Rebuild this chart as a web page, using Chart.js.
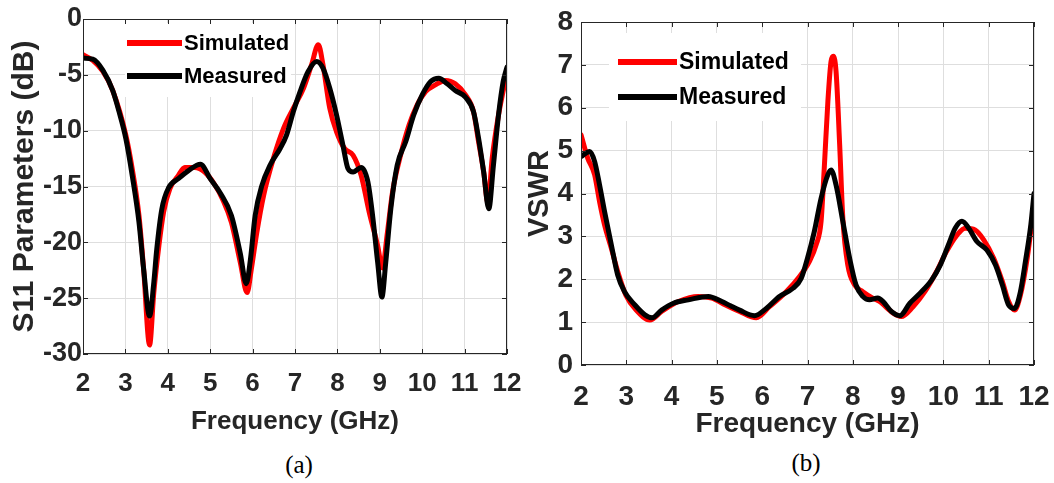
<!DOCTYPE html>
<html>
<head>
<meta charset="utf-8">
<script src="https://cdn.jsdelivr.net/npm/chart.js@4.4.0/dist/chart.umd.min.js"></script>
<style>
  body { margin: 0; background: #fff; width: 1054px; height: 483px; position: relative; overflow: hidden; }
  canvas { position: absolute; top: 0; }
  #s11 { left: 0; }
  #vswr { left: 527px; }
  .cap { position: absolute; font: 25px "Liberation Serif", "Times New Roman", serif; color: #000; transform: translateX(-50%); }
</style>
</head>
<body>
<canvas id="s11" width="527" height="445"></canvas>
<canvas id="vswr" width="527" height="445"></canvas>
<div class="cap" style="left:299px; top:451px;">(a)</div>
<div class="cap" style="left:806px; top:449px;">(b)</div>
<script>
// valores (GHz / dB / VSWR)
const xTicks = [2, 3, 4, 5, 6, 7, 8, 9, 10, 11, 12];
const s11Ticks = [0, -5, -10, -15, -20, -25, -30];
const vswrTicks = [0, 1, 2, 3, 4, 5, 6, 7, 8];

const s11SimFreq = [2.0, 2.23, 2.47, 2.7, 3.01, 3.16, 3.32, 3.43, 3.57, 3.67, 3.79, 3.9, 4.05, 4.25, 4.4, 4.63, 4.87, 5.1, 5.3, 5.5, 5.71, 5.87, 5.97, 6.1, 6.26, 6.49, 6.73, 6.96, 7.2, 7.39, 7.55, 7.66, 7.82, 7.98, 8.17, 8.37, 8.56, 8.75, 8.95, 9.06, 9.18, 9.3, 9.49, 9.69, 9.88, 10.08, 10.31, 10.55, 10.78, 11.02, 11.21, 11.33, 11.45, 11.55, 11.65, 11.8, 12.0];
const s11Sim = [-3.2, -3.7, -4.7, -6.4, -10.4, -13.4, -17.6, -22.4, -29.2, -24.5, -20.3, -17.3, -15.2, -14.0, -13.3, -13.3, -13.7, -14.8, -16.2, -18.2, -21.8, -24.5, -22.4, -19.1, -15.8, -12.5, -9.8, -8.0, -6.2, -4.1, -2.3, -4.1, -8.0, -10.1, -11.6, -12.2, -14.0, -17.3, -20.3, -22.3, -19.1, -15.5, -12.2, -9.5, -7.7, -6.5, -5.9, -5.5, -5.8, -6.8, -8.3, -11.0, -13.7, -16.5, -12.5, -8.6, -4.8];

const s11MeasFreq = [2.0, 2.23, 2.47, 2.7, 2.85, 3.01, 3.16, 3.32, 3.43, 3.57, 3.67, 3.74, 3.86, 4.02, 4.25, 4.48, 4.77, 5.0, 5.24, 5.5, 5.71, 5.85, 5.95, 6.06, 6.22, 6.41, 6.65, 6.8, 6.96, 7.12, 7.31, 7.51, 7.66, 7.82, 7.98, 8.13, 8.25, 8.37, 8.56, 8.72, 8.83, 8.95, 9.05, 9.14, 9.26, 9.41, 9.61, 9.8, 10.0, 10.2, 10.39, 10.59, 10.78, 11.02, 11.21, 11.33, 11.45, 11.57, 11.68, 11.8, 11.91, 12.0];
const s11Meas = [-3.5, -3.6, -4.6, -6.4, -8.3, -10.7, -14.0, -18.2, -22.4, -26.6, -23.6, -20.6, -17.0, -15.1, -14.3, -13.6, -13.0, -14.3, -15.6, -17.6, -21.0, -23.7, -21.5, -17.6, -14.9, -13.1, -11.6, -10.4, -8.3, -6.5, -4.7, -3.8, -4.4, -6.2, -8.6, -11.3, -13.4, -13.7, -13.3, -14.6, -17.6, -21.8, -24.9, -21.8, -17.0, -13.1, -11.0, -8.6, -6.8, -5.6, -5.3, -5.8, -6.4, -7.0, -8.3, -10.7, -13.7, -17.0, -13.1, -8.6, -5.6, -4.3];

const vswrSimFreq = [2.0, 2.15, 2.3, 2.41, 2.52, 2.67, 2.81, 2.99, 3.22, 3.52, 3.78, 4.15, 4.59, 4.89, 5.19, 5.5, 5.87, 6.16, 6.53, 6.82, 7.04, 7.19, 7.3, 7.37, 7.45, 7.52, 7.57, 7.63, 7.71, 7.78, 7.89, 8.04, 8.22, 8.44, 8.59, 8.89, 9.07, 9.33, 9.59, 9.85, 10.07, 10.3, 10.48, 10.7, 10.89, 11.11, 11.3, 11.44, 11.57, 11.7, 11.85, 12.0];
const vswrSim = [5.37, 4.82, 4.44, 3.81, 3.27, 2.72, 2.18, 1.63, 1.28, 1.05, 1.25, 1.48, 1.6, 1.56, 1.4, 1.25, 1.1, 1.36, 1.71, 2.06, 2.41, 2.8, 3.35, 4.59, 6.15, 7.08, 7.2, 6.85, 5.14, 3.42, 2.33, 1.87, 1.71, 1.56, 1.48, 1.21, 1.13, 1.36, 1.71, 2.18, 2.65, 3.03, 3.19, 3.15, 2.92, 2.49, 1.95, 1.48, 1.28, 1.63, 2.49, 3.74];

const vswrMeasFreq = [2.0, 2.19, 2.3, 2.41, 2.52, 2.67, 2.81, 2.96, 3.19, 3.41, 3.57, 3.78, 4.04, 4.37, 4.81, 5.11, 5.3, 5.5, 5.83, 6.09, 6.38, 6.68, 6.86, 7.0, 7.15, 7.3, 7.45, 7.52, 7.63, 7.78, 7.93, 8.07, 8.22, 8.37, 8.55, 8.67, 8.85, 9.04, 9.26, 9.48, 9.74, 9.93, 10.11, 10.26, 10.41, 10.56, 10.74, 10.96, 11.15, 11.3, 11.44, 11.57, 11.7, 11.81, 11.93, 12.0];
const vswrMeas = [4.86, 4.98, 4.75, 4.2, 3.58, 2.8, 2.1, 1.71, 1.4, 1.17, 1.1, 1.28, 1.44, 1.52, 1.6, 1.48, 1.38, 1.28, 1.15, 1.32, 1.6, 1.79, 2.02, 2.49, 3.11, 3.89, 4.44, 4.55, 4.2, 3.35, 2.49, 1.87, 1.6, 1.52, 1.56, 1.48, 1.25, 1.15, 1.44, 1.67, 1.98, 2.33, 2.8, 3.19, 3.35, 3.19, 2.88, 2.68, 2.33, 1.87, 1.4, 1.32, 1.71, 2.41, 3.27, 4.0];

const TXT = '#262626';
const FAMILY = '"Liberation Sans", Arial, sans-serif';

function pontos(xs, ys) {
    return xs.map((x, i) => ({ x: x, y: ys[i] }));
}

// moldura da área do gráfico com marcas para dentro + legenda interna
const molduraPlugin = {
    id: 'moldura',
    afterDraw(chart) {
        const { ctx, chartArea: a, scales } = chart;
        const lg = chart.options.plugins.moldura;
        ctx.save();

        // legenda
        ctx.fillStyle = '#fff';
        ctx.fillRect(lg.box[0], lg.box[1], lg.box[2], lg.box[3]);
        chart.data.datasets.forEach((ds, i) => {
            const y = lg.rowY + i * lg.rowGap;
            ctx.strokeStyle = ds.borderColor;
            ctx.lineWidth = 6;
            ctx.beginPath();
            ctx.moveTo(lg.lineX[0], y);
            ctx.lineTo(lg.lineX[1], y);
            ctx.stroke();
            ctx.fillStyle = '#000';
            ctx.font = 'bold ' + lg.fontSize + 'px ' + FAMILY;
            ctx.textBaseline = 'middle';
            ctx.textAlign = 'left';
            ctx.fillText(ds.label, lg.lineX[1] + 2, y + 1);
        });

        // caixa e ticks
        ctx.strokeStyle = TXT;
        ctx.lineWidth = 1;
        ctx.strokeRect(a.left + 0.5, a.top + 0.5, a.width - 1, a.height - 1);
        const len = 5;
        ctx.beginPath();
        scales.x.ticks.forEach(t => {
            const x = Math.round(scales.x.getPixelForValue(t.value)) + 0.5;
            ctx.moveTo(x, a.bottom); ctx.lineTo(x, a.bottom - len);
            ctx.moveTo(x, a.top); ctx.lineTo(x, a.top + len);
        });
        scales.y.ticks.forEach(t => {
            const y = Math.round(scales.y.getPixelForValue(t.value)) + 0.5;
            ctx.moveTo(a.left, y); ctx.lineTo(a.left + len, y);
            ctx.moveTo(a.right, y); ctx.lineTo(a.right - len, y);
        });
        ctx.stroke();
        ctx.restore();
    }
};

function criarGrafico(id, cfg) {
    const ctx = document.getElementById(id).getContext('2d');
    return new Chart(ctx, {
        type: 'line',
        data: {
            datasets: [{
                label: 'Simulated',
                data: pontos(cfg.simX, cfg.simY),
                borderColor: '#ff0000',
                borderWidth: 5,
                order: 1
            }, {
                label: 'Measured',
                data: pontos(cfg.measX, cfg.measY),
                borderColor: '#000000',
                borderWidth: 5,
                order: 0
            }]
        },
        options: {
            responsive: false,
            animation: false,
            parsing: false,
            elements: {
                point: { radius: 0 },
                line: { tension: 0.4, cubicInterpolationMode: 'monotone', borderCapStyle: 'round', borderJoinStyle: 'round' }
            },
            layout: { padding: { left: 0, right: 20, top: cfg.top, bottom: 0 } },
            plugins: {
                legend: { display: false },
                tooltip: { enabled: false },
                moldura: cfg.legend
            },
            scales: {
                x: {
                    type: 'linear',
                    min: 2,
                    max: 12,
                    afterBuildTicks: s => { s.ticks = xTicks.map(v => ({ value: v })); },
                    afterFit: s => { s.height = cfg.xHeight; s.paddingLeft = 0; s.paddingRight = 0; },
                    grid: { color: '#dedede', drawTicks: false },
                    border: { display: false },
                    ticks: {
                        autoSkip: false, maxRotation: 0,
                        padding: cfg.xTickPad,
                        color: TXT,
                        font: { family: FAMILY, size: cfg.xTickSize, weight: 'bold' },
                        callback: v => String(v)
                    },
                    title: {
                        display: true,
                        text: 'Frequency (GHz)',
                        color: TXT,
                        font: { family: FAMILY, size: cfg.xTitleSize, weight: 'bold', lineHeight: 1.2 },
                        padding: { top: 0, bottom: cfg.xTitlePad }
                    }
                },
                y: {
                    type: 'linear',
                    min: cfg.yMin,
                    max: cfg.yMax,
                    afterBuildTicks: s => { s.ticks = cfg.yTicks.map(v => ({ value: v })); },
                    afterFit: s => { s.width = cfg.yWidth; s.paddingTop = 0; s.paddingBottom = 0; },
                    grid: { color: '#dedede', drawTicks: false },
                    border: { display: false },
                    ticks: {
                        autoSkip: false,
                        padding: cfg.yTickPad,
                        color: TXT,
                        font: { family: FAMILY, size: cfg.yTickSize, weight: 'bold' },
                        callback: v => String(v)
                    },
                    title: {
                        display: true,
                        text: cfg.yTitle,
                        color: TXT,
                        font: { family: FAMILY, size: cfg.yTitleSize, weight: 'bold', lineHeight: cfg.yTitleLH },
                        padding: { top: cfg.yTitlePad, bottom: 0 }
                    }
                }
            }
        },
        plugins: [molduraPlugin]
    });
}

criarGrafico('s11', {
    simX: s11SimFreq, simY: s11Sim, measX: s11MeasFreq, measY: s11Meas,
    yMin: -30, yMax: 0, yTicks: s11Ticks, yTitle: 'S11 Parameters (dB)',
    top: 19, xHeight: 91, yWidth: 83,
    xTickPad: 14, xTickSize: 26, xTitleSize: 26, xTitlePad: 8,
    yTickPad: 1, yTickSize: 27, yTitleSize: 30, yTitleLH: 1.2, yTitlePad: 7,
    legend: { box: [125, 23, 166, 74], lineX: [127, 182], rowY: 43, rowGap: 33, fontSize: 22 }
});

criarGrafico('vswr', {
    simX: vswrSimFreq, simY: vswrSim, measX: vswrMeasFreq, measY: vswrMeas,
    yMin: 0, yMax: 8, yTicks: vswrTicks, yTitle: 'VSWR',
    top: 22, xHeight: 80, yWidth: 54,
    xTickPad: 15, xTickSize: 28, xTitleSize: 28, xTitlePad: 4,
    yTickPad: 8, yTickSize: 28, yTitleSize: 29, yTitleLH: 0.9, yTitlePad: 0,
    legend: { box: [82, 33, 192, 88], lineX: [91, 150], rowY: 62, rowGap: 35, fontSize: 23 }
});
</script>
</body>
</html>
